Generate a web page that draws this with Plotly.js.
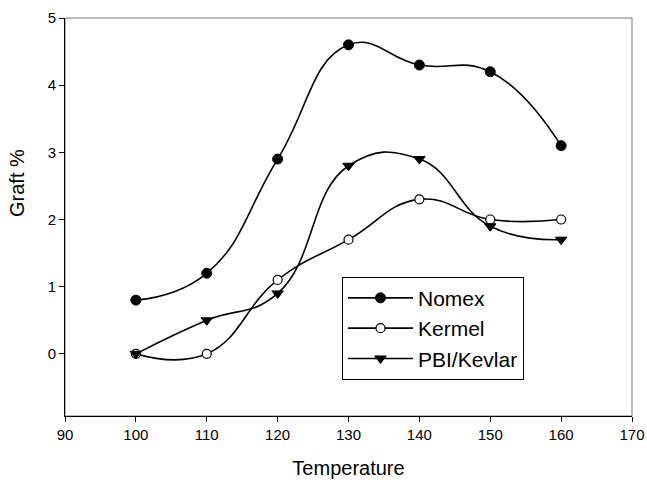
<!DOCTYPE html>
<html>
<head>
<meta charset="utf-8">
<script src="https://cdn.plot.ly/plotly-3.0.1.min.js"></script>
<style>html,body{margin:0;padding:0;background:#fff;}#chart{width:647px;height:482px;}</style>
</head>
<body>
<div id="chart"></div>
<script>
const temperature = [100, 110, 120, 130, 140, 150, 160];
const nomex = [0.8, 1.2, 2.9, 4.6, 4.3, 4.2, 3.1];
const kermel = [0.0, 0.0, 1.1, 1.7, 2.3, 2.0, 2.0];
const pbiKevlar = [0.0, 0.5, 0.9, 2.8, 2.9, 1.9, 1.7];
const seriesNames = ["Nomex", "Kermel", "PBI/Kevlar"];
const xTicks = [90, 100, 110, 120, 130, 140, 150, 160, 170];
const yTicks = [0, 1, 2, 3, 4, 5];

const font = "Liberation Sans, Arial, sans-serif";
const lineStyle = {color: "#000", width: 1.6, shape: "spline", smoothing: 1.3};

const traces = [
  {x: temperature, y: nomex, name: seriesNames[0], mode: "lines+markers", line: lineStyle,
   marker: {symbol: "circle", size: 10, color: "#000", line: {color: "#000", width: 1}}},
  {x: temperature, y: kermel, name: seriesNames[1], mode: "lines+markers", line: lineStyle,
   marker: {symbol: "circle", size: 9, color: "#fff", line: {color: "#000", width: 1.2}}},
  {x: temperature, y: pbiKevlar, name: seriesNames[2], mode: "lines+markers", line: lineStyle,
   marker: {symbol: "triangle-down", size: 10, color: "#000", line: {color: "#000", width: 1}}}
];

const layout = {
  width: 647, height: 482,
  margin: {l: 65, r: 15, t: 18, b: 66},
  paper_bgcolor: "#fff", plot_bgcolor: "#fff",
  font: {family: font, color: "#000", size: 15},
  showlegend: true,
  legend: {x: 0.4885, y: 0.35, xanchor: "left", yanchor: "top",
    bordercolor: "#000", borderwidth: 1, bgcolor: "#fff",
    font: {family: font, size: 21, color: "#000"}, tracegroupgap: 0, itemwidth: 65},
  xaxis: {range: [90, 170], tickvals: xTicks, ticks: "outside", ticklen: 5, tickcolor: "#000",
    showline: true, linecolor: "#000", linewidth: 1, showgrid: false, zeroline: false,
    tickfont: {family: font, size: 15, color: "#000"},
    title: {text: "Temperature", font: {family: font, size: 20, color: "#000"}, standoff: 18}},
  yaxis: {range: [-0.925, 5], tickvals: yTicks, ticks: "outside", ticklen: 5, tickcolor: "#000",
    showline: true, linecolor: "#000", linewidth: 1, showgrid: false, zeroline: false,
    tickfont: {family: font, size: 15, color: "#000"}},
  annotations: [{text: "Graft %", xref: "paper", yref: "paper", x: -0.085, y: 0.585,
    xanchor: "center", yanchor: "middle", textangle: -90, showarrow: false,
    font: {family: font, size: 20, color: "#000"}}],
  shapes: [{type: "rect", xref: "paper", yref: "paper", x0: 0, x1: 1, y0: 0, y1: 1,
    line: {color: "#777", width: 1}, layer: "below"}]
};

Plotly.newPlot("chart", traces, layout, {displayModeBar: false, staticPlot: true});
</script>
</body>
</html>
